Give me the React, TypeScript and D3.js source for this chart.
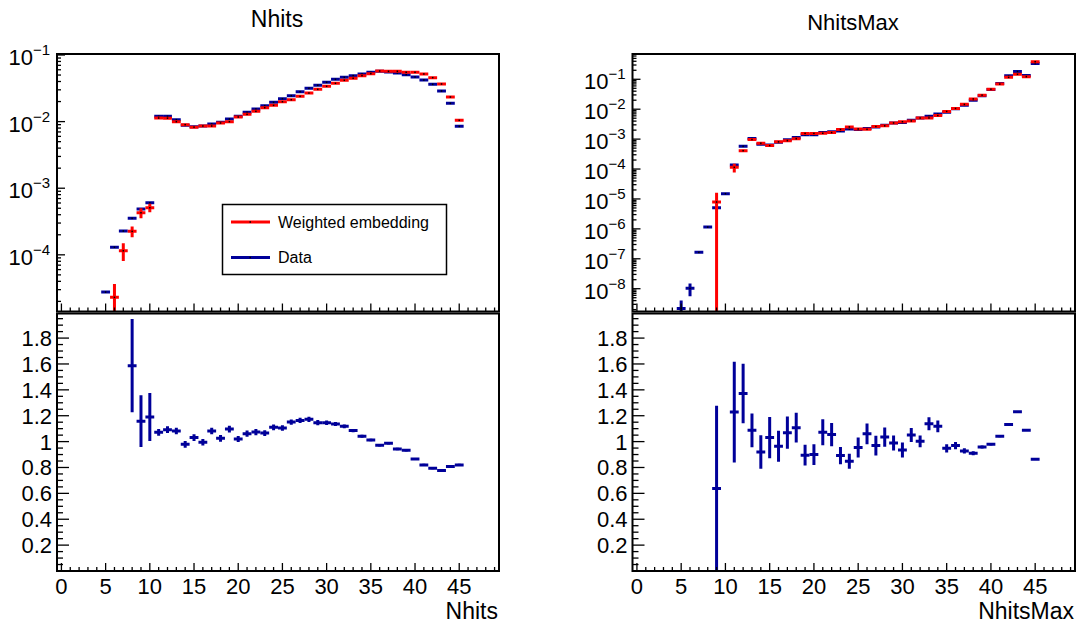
import React from "react";
import * as d3 from "d3";

// ---------- data ----------
const BINS = [5, 6, 7, 8, 9, 10, 11, 12, 13, 14, 15, 16, 17, 18, 19, 20, 21, 22, 23, 24, 25, 26, 27, 28, 29, 30, 31, 32, 33, 34, 35, 36, 37, 38, 39, 40, 41, 42, 43, 44, 45];

const nhitsData = [2.76e-5, 1.30e-4, 2.28e-4, 3.53e-4, 4.88e-4, 6.05e-4, 0.0120, 0.0120, 0.01069, 0.00879, 0.00839, 0.00859, 0.00920, 0.00975, 0.01094, 0.0120, 0.01377, 0.01545, 0.01734, 0.01945, 0.02208, 0.02449, 0.02812, 0.0316, 0.0351, 0.0389, 0.0431, 0.0462, 0.0490, 0.0519, 0.0550, 0.0569, 0.0556, 0.0537, 0.0507, 0.0468, 0.0422, 0.0363, 0.0288, 0.0188, 0.00849];
const nhitsEmb = [0, 2.30e-5, 1.15e-4, 2.25e-4, 4.28e-4, 5.09e-4, 0.01132, 0.01127, 0.00998, 0.00899, 0.00826, 0.00859, 0.00859, 0.00953, 0.00998, 0.01173, 0.01285, 0.01426, 0.01618, 0.01754, 0.0199, 0.02133, 0.02393, 0.02685, 0.0305, 0.0339, 0.0376, 0.0417, 0.0447, 0.0490, 0.0525, 0.0575, 0.0569, 0.0569, 0.0550, 0.0550, 0.0519, 0.0457, 0.0367, 0.0234, 0.01045];
const nhitsEmbErr = [0, 1.34e-5, 3.4e-5, 4.2e-5, 7.4e-5, 7.5e-5, 0, 0, 0, 0, 0, 0, 0, 0, 0, 0, 0, 0, 0, 0, 0, 0, 0, 0, 0, 0, 0, 0, 0, 0, 0, 0, 0, 0, 0, 0, 0, 0, 0, 0, 0];
const nhitsDataErr = [0, 0, 0, 0, 0, 0, 0, 0, 0, 0, 0, 0, 0, 0, 0, 0, 0, 0, 0, 0, 0, 0, 0, 0, 0, 0, 0, 0, 0, 0, 0, 0, 0, 0, 0, 0, 0, 0, 0, 0, 0];

const nhitsRatioBins = [8, 9, 10, 11, 12, 13, 14, 15, 16, 17, 18, 19, 20, 21, 22, 23, 24, 25, 26, 27, 28, 29, 30, 31, 32, 33, 34, 35, 36, 37, 38, 39, 40, 41, 42, 43, 44, 45];
const nhitsRatio = [1.587, 1.158, 1.19, 1.072, 1.092, 1.082, 0.979, 1.031, 0.995, 1.082, 1.025, 1.097, 1.02, 1.061, 1.074, 1.066, 1.11, 1.105, 1.151, 1.164, 1.172, 1.146, 1.146, 1.136, 1.118, 1.085, 1.041, 1.013, 0.972, 0.987, 0.943, 0.933, 0.866, 0.82, 0.795, 0.776, 0.808, 0.82];
const nhitsRatioErr = [0.36, 0.2, 0.185, 0.026, 0.026, 0.026, 0.026, 0.026, 0.026, 0.026, 0.026, 0.026, 0.024, 0.024, 0.024, 0.022, 0.022, 0.022, 0.02, 0.02, 0.02, 0.02, 0.018, 0.016, 0.014, 0.012, 0.012, 0.01, 0.01, 0.01, 0.009, 0.009, 0.008, 0.008, 0.008, 0.008, 0.008, 0.008];

const maxData = [2.2e-9, 1.03e-8, 1.64e-7, 1.15e-6, 5.09e-6, 1.50e-5, 1.36e-4, 5.75e-4, 1.05e-3, 6.7e-4, 6.3e-4, 7.8e-4, 9.5e-4, 1.14e-3, 1.39e-3, 1.40e-3, 1.68e-3, 1.75e-3, 1.87e-3, 2.16e-3, 2.08e-3, 2.25e-3, 2.55e-3, 2.88e-3, 3.44e-3, 3.57e-3, 4.26e-3, 5.08e-3, 5.8e-3, 6.88e-3, 7.96e-3, 1.03e-2, 1.35e-2, 2.0e-2, 2.83e-2, 4.55e-2, 7.18e-2, 0.131, 0.181, 0.133, 0.334];
const maxDataErr = [1.8e-9, 4.7e-9, 0, 0, 0, 0, 0, 0, 0, 0, 0, 0, 0, 0, 0, 0, 0, 0, 0, 0, 0, 0, 0, 0, 0, 0, 0, 0, 0, 0, 0, 0, 0, 0, 0, 0, 0, 0, 0, 0, 0];
const maxEmb = [0, 0, 0, 0, 7.9e-6, 0, 1.14e-4, 4.10e-4, 0.97e-3, 7.3e-4, 6.1e-4, 8.1e-4, 8.9e-4, 1.03e-3, 1.55e-3, 1.55e-3, 1.57e-3, 1.66e-3, 2.1e-3, 2.55e-3, 2.18e-3, 2.12e-3, 2.63e-3, 2.78e-3, 3.47e-3, 3.82e-3, 4.05e-3, 5.07e-3, 5.1e-3, 6.15e-3, 8.4e-3, 1.06e-2, 1.45e-2, 2.2e-2, 2.95e-2, 4.65e-2, 6.9e-2, 0.116, 0.147, 0.122, 0.387];
const maxEmbErr = [0, 0, 0, 0, 8.2e-6, 0, 3.7e-5, 3.0e-5, 0, 0, 0, 0, 0, 0, 0, 0, 0, 0, 0, 0, 0, 0, 0, 0, 0, 0, 0, 0, 0, 0, 0, 0, 0, 0, 0, 0, 0, 0, 0, 0, 0];

const maxRatioBins = [9, 11, 12, 13, 14, 15, 16, 17, 18, 19, 20, 21, 22, 23, 24, 25, 26, 27, 28, 29, 30, 31, 32, 33, 34, 35, 36, 37, 38, 39, 40, 41, 42, 43, 44, 45];
const maxRatio = [0.638, 1.228, 1.372, 1.087, 0.92, 1.031, 0.964, 1.069, 1.108, 0.895, 0.9, 1.072, 1.054, 0.892, 0.848, 0.954, 1.06, 0.969, 1.035, 0.99, 0.935, 1.051, 1.002, 1.138, 1.118, 0.948, 0.969, 0.928, 0.91, 0.958, 0.979, 1.041, 1.133, 1.231, 1.087, 0.864];
const maxRatioErr = [0.64, 0.39, 0.23, 0.13, 0.13, 0.16, 0.12, 0.125, 0.115, 0.08, 0.08, 0.1, 0.09, 0.067, 0.058, 0.077, 0.08, 0.077, 0.074, 0.058, 0.058, 0.055, 0.045, 0.05, 0.045, 0.032, 0.028, 0.02, 0.015, 0.012, 0.01, 0.008, 0.006, 0.005, 0.004, 0.004];

const xMajorTicks = [0, 5, 10, 15, 20, 25, 30, 35, 40, 45];
const ratioLabels = ["0.2", "0.4", "0.6", "0.8", "1", "1.2", "1.4", "1.6", "1.8"];
const legendLabels = ["Weighted embedding", "Data"];

// ---------- style ----------
const RED = "#ff0000";
const BLUE = "#000099";
const FONT = "'Liberation Sans', Arial, Helvetica, sans-serif";

const TOP_Y0 = 54;
const TOP_Y1 = 311.5;
const BOT_Y0 = 313.5;
const BOT_Y1 = 571;

type PanelProps = {
  id: string;
  x0: number;
  x1: number;
  logDomain: [number, number];
  logLabels: number[];
  data: number[];
  dataErr: number[];
  emb: number[];
  embErr: number[];
  ratioBins: number[];
  ratio: number[];
  ratioErr: number[];
  title: string;
  titleX: number;
  titleY: number;
  titleSize: number;
  xTitle: string;
  legend?: boolean;
};

function Errs({ bins, vals, errs, x, y, color, floorY, dot }: any) {
  return (
    <g>
      {bins.map((b: number, i: number) => {
        const v = vals[i];
        if (!(v > 0)) return null;
        const e = errs[i] || 0;
        const yv = y(v);
        const yHi = e > 0 ? y(v + e) : yv;
        const yLo = e > 0 ? (v - e > 0 ? y(v - e) : floorY + 5) : yv;
        return (
          <g key={b}>
            <line x1={x(b - 0.5)} x2={x(b + 0.5)} y1={yv} y2={yv} stroke={color} strokeWidth={3} />
            {e > 0 && <line x1={x(b)} x2={x(b)} y1={yHi} y2={yLo} stroke={color} strokeWidth={3} />}
            {dot && <rect x={x(b) - 0.75} y={yv - 0.75} width={1.5} height={1.5} fill="#000" />}
          </g>
        );
      })}
    </g>
  );
}

function Panel(p: PanelProps) {
  const x = d3.scaleLinear().domain([-0.5, 49.5]).range([p.x0, p.x1]);
  const yTop = d3.scaleLog().domain(p.logDomain).range([TOP_Y1, TOP_Y0]);
  const yBot = d3.scaleLinear().domain([0, 1.99]).range([BOT_Y1, BOT_Y0]);

  const minorX = d3.range(0, 50);
  const logTicks: { v: number; major: boolean; e: number }[] = [];
  const eLo = Math.floor(Math.log10(p.logDomain[0]));
  const eHi = Math.ceil(Math.log10(p.logDomain[1]));
  for (let e = eLo; e <= eHi; e++) {
    for (let m = 1; m <= 9; m++) {
      const v = m * Math.pow(10, e);
      if (v >= p.logDomain[0] && v <= p.logDomain[1]) logTicks.push({ v, major: m === 1, e });
    }
  }
  const ratioMinor = d3.range(1, 40).map((k) => k * 0.05);
  const ratioMajor = d3.range(1, 10).map((k) => k * 0.2);

  const xTicks = (yb: number) => (
    <g stroke="#000" strokeWidth={1.3}>
      {minorX.map((t) => (
        <line key={t} x1={x(t)} x2={x(t)} y1={yb} y2={yb - (t % 5 === 0 ? 8 : 4)} />
      ))}
    </g>
  );

  return (
    <g>
      <defs>
        <clipPath id={p.id + "top"}>
          <rect x={p.x0} y={TOP_Y0} width={p.x1 - p.x0} height={TOP_Y1 - TOP_Y0} />
        </clipPath>
        <clipPath id={p.id + "bot"}>
          <rect x={p.x0} y={BOT_Y0} width={p.x1 - p.x0} height={BOT_Y1 - BOT_Y0} />
        </clipPath>
      </defs>

      {/* title */}
      <text x={p.titleX} y={p.titleY} textAnchor="middle" fontSize={p.titleSize} fontFamily={FONT} fill="#000">
        {p.title}
      </text>

      {/* top pad data */}
      <g clipPath={`url(#${p.id}top)`}>
        <Errs bins={BINS} vals={p.data} errs={p.dataErr} x={x} y={yTop} color={BLUE} floorY={TOP_Y1} dot />
        <Errs bins={BINS} vals={p.emb} errs={p.embErr} x={x} y={yTop} color={RED} floorY={TOP_Y1} dot />
      </g>

      {/* top frame */}
      <rect x={p.x0} y={TOP_Y0} width={p.x1 - p.x0} height={TOP_Y1 - TOP_Y0} fill="none" stroke="#000" strokeWidth={2} />
      {xTicks(TOP_Y1)}
      <g stroke="#000" strokeWidth={1.3}>
        {logTicks.map((t, i) => (
          <line key={i} x1={p.x0} x2={p.x0 + (t.major ? 8 : 4)} y1={yTop(t.v)} y2={yTop(t.v)} />
        ))}
      </g>
      <g fontFamily={FONT} fill="#000">
        {logTicks
          .filter((t) => t.major && p.logLabels.includes(t.e))
          .map((t) => (
            <text key={t.e} x={p.x0 - 7} y={yTop(t.v) + 10} textAnchor="end" fontSize={22}>
              10
              <tspan fontSize={15} dy={-10}>
                {"\u2212" + Math.abs(t.e)}
              </tspan>
            </text>
          ))}
      </g>

      {/* legend */}
      {p.legend && (
        <g fontFamily={FONT}>
          <rect x={222.5} y={204.5} width={224} height={70} fill="#fff" stroke="#000" strokeWidth={1.5} />
          <line x1={231} x2={270} y1={222} y2={222} stroke={RED} strokeWidth={3} />
          <rect x={249.5} y={221.25} width={1.5} height={1.5} fill="#000" />
          <text x={278} y={227.5} fontSize={16} fill="#000">{legendLabels[0]}</text>
          <line x1={231} x2={270} y1={257.5} y2={257.5} stroke={BLUE} strokeWidth={3} />
          <rect x={249.5} y={256.75} width={1.5} height={1.5} fill="#000" />
          <text x={278} y={263} fontSize={16} fill="#000">{legendLabels[1]}</text>
        </g>
      )}

      {/* bottom pad data */}
      <g clipPath={`url(#${p.id}bot)`}>
        {p.ratioBins.map((b, i) => {
          const v = p.ratio[i];
          const e = p.ratioErr[i];
          const yv = yBot(v);
          return (
            <g key={b}>
              <line x1={x(b - 0.5)} x2={x(b + 0.5)} y1={yv} y2={yv} stroke={BLUE} strokeWidth={3} />
              <line x1={x(b)} x2={x(b)} y1={yBot(v + e)} y2={v - e > 0 ? yBot(v - e) : BOT_Y1 + 5} stroke={BLUE} strokeWidth={3} />
            </g>
          );
        })}
      </g>

      {/* bottom frame */}
      <rect x={p.x0} y={BOT_Y0} width={p.x1 - p.x0} height={BOT_Y1 - BOT_Y0} fill="none" stroke="#000" strokeWidth={2} />
      {xTicks(BOT_Y1)}
      <g stroke="#000" strokeWidth={1.3}>
        {ratioMinor.map((t, i) => (
          <line key={i} x1={p.x0} x2={p.x0 + (i % 4 === 3 ? 12 : 6)} y1={yBot(t)} y2={yBot(t)} />
        ))}
      </g>
      <g fontFamily={FONT} fill="#000" fontSize={22}>
        {ratioMajor.map((t, i) => (
          <text key={i} x={p.x0 - 5} y={yBot(t) + 8} textAnchor="end">
            {ratioLabels[i]}
          </text>
        ))}
        {xMajorTicks.map((t) => (
          <text key={t} x={x(t)} y={594} textAnchor="middle">
            {t}
          </text>
        ))}
      </g>
      <text x={p.x1 - 1} y={619} textAnchor="end" fontFamily={FONT} fontSize={23} fill="#000">
        {p.xTitle}
      </text>
    </g>
  );
}

export default function App() {
  return (
    <svg
      width={1082}
      height={625}
      viewBox="0 0 1082 625"
      style={{ position: "absolute", left: 0, top: 0, background: "#fff" }}
    >
      <rect x={0} y={0} width={1082} height={625} fill="#fff" />
      <Panel
        id="p1"
        x0={57}
        x1={499}
        logDomain={[1.41e-5, 0.1035]}
        logLabels={[-4, -3, -2, -1]}
        data={nhitsData}
        dataErr={nhitsDataErr}
        emb={nhitsEmb}
        embErr={nhitsEmbErr}
        ratioBins={nhitsRatioBins}
        ratio={nhitsRatio}
        ratioErr={nhitsRatioErr}
        title="Nhits"
        titleX={277}
        titleY={27}
        titleSize={23}
        xTitle="Nhits"
        legend
      />
      <Panel
        id="p2"
        x0={632.5}
        x1={1075}
        logDomain={[1.73e-9, 0.70]}
        logLabels={[-8, -7, -6, -5, -4, -3, -2, -1]}
        data={maxData}
        dataErr={maxDataErr}
        emb={maxEmb}
        embErr={maxEmbErr}
        ratioBins={maxRatioBins}
        ratio={maxRatio}
        ratioErr={maxRatioErr}
        title="NhitsMax"
        titleX={853}
        titleY={30}
        titleSize={22}
        xTitle="NhitsMax"
      />
    </svg>
  );
}
